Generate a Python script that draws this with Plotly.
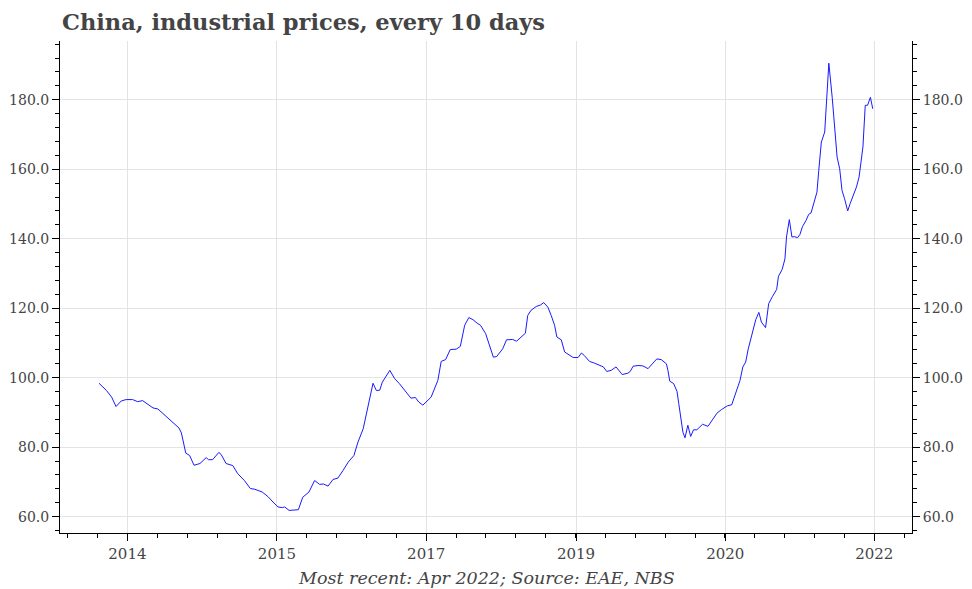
import plotly.graph_objects as go

# China industrial prices (10-day series)
dates = [
    "2014-01-11", "2014-02-09", "2014-03-01", "2014-03-18", "2014-04-07", "2014-04-26",
    "2014-05-21", "2014-06-10", "2014-06-29", "2014-07-18", "2014-08-08", "2014-08-27",
    "2014-09-16", "2014-10-05", "2014-10-24", "2014-11-17", "2014-11-26", "2014-12-05",
    "2014-12-13", "2014-12-28",
    "2015-01-14", "2015-02-06", "2015-03-02", "2015-03-11", "2015-03-27", "2015-04-20",
    "2015-04-29", "2015-05-18", "2015-06-13", "2015-07-02", "2015-07-28", "2015-08-20",
    "2015-09-06", "2015-10-05", "2015-10-27", "2015-11-16", "2015-12-05", "2015-12-22",
    "2015-12-31",
    "2016-01-17", "2016-02-12", "2016-02-22", "2016-03-10", "2016-04-03", "2016-04-25",
    "2016-05-14", "2016-05-29", "2016-06-16", "2016-07-05", "2016-07-24", "2016-08-13",
    "2016-09-02", "2016-09-24", "2016-10-10", "2016-10-30", "2016-11-18", "2016-12-07",
    "2016-12-20",
    "2017-01-02", "2017-01-12", "2017-02-10", "2017-03-01", "2017-03-19", "2017-05-03",
    "2017-05-20", "2017-06-02", "2017-06-18", "2017-07-20", "2017-08-15", "2017-08-28",
    "2017-09-14", "2017-10-02", "2017-10-25", "2017-11-10", "2017-11-27", "2017-12-13",
    "2017-12-29",
    "2018-01-14", "2018-01-27", "2018-02-16", "2018-03-02", "2018-03-18", "2018-03-31",
    "2018-04-23", "2018-05-08", "2018-06-01", "2018-06-16", "2018-07-03", "2018-07-20",
    "2018-07-29", "2018-08-11", "2018-08-31", "2018-09-16", "2018-09-29", "2018-10-15",
    "2018-10-28", "2018-11-10", "2018-11-19", "2018-12-06", "2018-12-19",
    "2019-01-01", "2019-01-21", "2019-02-09", "2019-02-22", "2019-03-05", "2019-03-25",
    "2019-04-13", "2019-05-02", "2019-05-18", "2019-05-31", "2019-06-17", "2019-07-06",
    "2019-07-19", "2019-07-30", "2019-08-21", "2019-08-30", "2019-09-10", "2019-09-29",
    "2019-10-18", "2019-11-07", "2019-11-26", "2019-12-11", "2019-12-28",
    "2020-01-17", "2020-01-23", "2020-01-30", "2020-02-14", "2020-02-27", "2020-03-05",
    "2020-03-15", "2020-03-21", "2020-03-29", "2020-04-09", "2020-04-20", "2020-05-01",
    "2020-05-14", "2020-06-05", "2020-06-26", "2020-07-13", "2020-07-31", "2020-08-17",
    "2020-09-09", "2020-09-26", "2020-10-12", "2020-10-28", "2020-11-08", "2020-11-19",
    "2020-11-29", "2020-12-09", "2020-12-20", "2020-12-28",
    "2021-01-09", "2021-01-19", "2021-02-04", "2021-02-16", "2021-03-03", "2021-03-19",
    "2021-03-26", "2021-04-09", "2021-04-20", "2021-04-26", "2021-05-07", "2021-05-17",
    "2021-05-26", "2021-06-08", "2021-06-17", "2021-06-27", "2021-07-11", "2021-07-21",
    "2021-07-30", "2021-08-09", "2021-08-22", "2021-08-29", "2021-09-08", "2021-09-21",
    "2021-09-30", "2021-10-07", "2021-10-20", "2021-10-29", "2021-11-08", "2021-11-18",
    "2021-11-27", "2021-12-07", "2021-12-19", "2021-12-29",
    "2022-01-12", "2022-01-22", "2022-02-01", "2022-02-08", "2022-02-16", "2022-02-25",
    "2022-03-06", "2022-03-17", "2022-03-26",
]

prices = [
    98.4, 96.3, 94.4, 91.7, 93.3, 93.7,
    93.7, 93.1, 93.4, 92.5, 91.3, 91.0,
    89.6, 88.5, 87.2, 85.5, 84.1, 80.5,
    78.3, 77.6,
    74.8, 75.3, 77.0, 76.4, 76.4, 78.5,
    77.9, 75.3, 74.7, 72.4, 70.4, 68.1,
    67.9, 67.1, 65.8, 64.2, 62.8, 62.6,
    62.8,
    61.8, 61.8, 62.0, 65.6, 67.1, 70.4,
    69.3, 69.4, 68.8, 70.7, 71.1, 73.3,
    75.7, 77.6, 81.5, 85.3, 92.0, 98.4,
    96.3,
    96.4, 98.7, 102.1, 99.7, 98.3, 94.1,
    94.3, 93.0, 92.1, 94.4, 99.2, 104.7,
    105.2, 108.1, 108.2, 109.0, 115.1, 117.3,
    116.7,
    115.7, 115.1, 112.7, 109.8, 105.9, 106.1,
    108.3, 110.9, 111.0, 110.5, 111.7, 112.8,
    117.9, 119.4, 120.5, 120.9, 121.6, 120.3,
    117.9, 115.1, 111.7, 110.9, 107.4,
    106.7, 105.8, 105.8, 107.1, 106.4, 104.7,
    104.2, 103.5, 103.1, 101.8, 102.1, 103.1,
    102.0, 100.9, 101.3, 101.8, 103.3, 103.5,
    103.4, 102.6, 104.2, 105.4, 105.2,
    104.0, 102.1, 99.0, 98.3, 96.1, 92.5,
    87.7, 84.3, 82.7, 86.3, 83.1, 85.0,
    85.0, 86.6, 86.0, 87.7, 89.8, 90.8,
    91.9, 92.2, 95.9, 99.2, 103.1, 104.5,
    108.3, 111.2, 113.6, 116.7,
    118.8, 116.0, 114.4, 121.3, 123.4, 125.4,
    129.2, 131.1, 134.2, 140.5, 145.5, 140.5,
    140.6, 140.3, 141.2, 143.5, 145.3, 147.0,
    147.4, 150.1, 153.4, 159.7, 167.8, 170.7,
    181.7, 190.5, 180.7, 171.2, 163.5, 160.1,
    153.9, 151.5, 148.0, 150.2,
    152.7, 154.9, 157.7, 161.1, 166.4, 178.4,
    178.4, 180.7, 177.4,
]

titulo = "China, industrial prices, every 10 days"
rodape = "Most recent: Apr 2022; Source: EAE, NBS"

fonte = "DejaVu Serif"
cinza = "#444444"
faixa_y = [55.3, 196.9]
faixa_x = ["2013-08-13", "2022-08-25"]
minor_ms = 19 * 30.44 / 5 * 86400000

# a pagina tem margem de 8px no body, por isso a figura e um pouco menor
largura, altura = 964, 581

fig = go.Figure()
fig.add_trace(go.Scatter(x=dates, y=prices, mode="lines",
                         line=dict(color="#1a1aff", width=1), showlegend=False))
# copia invisivel para o eixo da direita
fig.add_trace(go.Scatter(x=dates, y=prices, mode="lines", yaxis="y2",
                         line=dict(color="rgba(0,0,0,0)", width=1),
                         hoverinfo="skip", showlegend=False))

eixo_y = dict(
    range=faixa_y, dtick=20, tick0=0, tickformat=".1f",
    showline=True, linecolor="black", linewidth=1,
    ticks="outside", ticklen=7, tickcolor="black",
    showgrid=True, gridcolor="#e3e3e3", zeroline=False,
    automargin=False,
    tickfont=dict(family=fonte, size=14, color=cinza),
    minor=dict(dtick=4, tick0=0, ticks="outside", ticklen=4,
               tickcolor="black", showgrid=False),
)

fig.update_layout(
    width=largura, height=altura, autosize=False,
    plot_bgcolor="white", paper_bgcolor="white",
    margin=dict(l=52, r=60, t=33, b=56),
    title=dict(text="<b>" + titulo + "</b>", x=54 / largura, xanchor="left",
               y=1 - 14 / altura, yanchor="middle",
               font=dict(family=fonte, size=22.5, color=cinza)),
    xaxis=dict(
        type="date", range=faixa_x,
        tick0="2014-05-01", dtick="M19", tickformat="%Y",
        showline=True, linecolor="black", linewidth=1,
        ticks="outside", ticklen=7, tickcolor="black",
        showgrid=True, gridcolor="#e3e3e3", zeroline=False,
        automargin=False,
        tickfont=dict(family=fonte, size=15, color=cinza),
        minor=dict(tick0="2014-05-01", dtick=minor_ms, ticks="outside",
                   ticklen=4, tickcolor="black", showgrid=False),
    ),
    yaxis=eixo_y,
    yaxis2=dict(eixo_y, overlaying="y", side="right", anchor="x", showgrid=False),
    annotations=[dict(text="<i>" + rodape + "</i>", xref="paper", yref="paper",
                      x=0.5, y=-(570 - 525) / 492, xanchor="center", yanchor="middle",
                      showarrow=False, font=dict(family=fonte, size=17.5, color=cinza))],
)

fig.write_html("out.html")
